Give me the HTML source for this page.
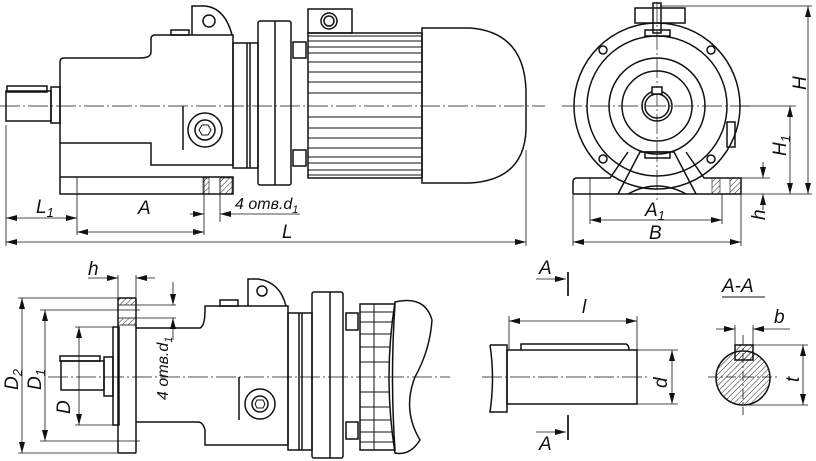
<!DOCTYPE html>
<html><head><meta charset="utf-8"><style>
html,body{margin:0;padding:0;background:#fff;}
svg{display:block;}
text{font-family:"Liberation Sans",sans-serif;font-style:italic;fill:#111;}
</style></head><body>
<svg width="816" height="461" viewBox="0 0 816 461" xmlns="http://www.w3.org/2000/svg">
<defs>
<pattern id="h" width="4" height="4" patternUnits="userSpaceOnUse" patternTransform="rotate(45)"><line x1="0" y1="0" x2="0" y2="4" stroke="#222" stroke-width="1"/></pattern>
<marker id="a" markerWidth="11" markerHeight="6" refX="11" refY="3" orient="auto-start-reverse" markerUnits="userSpaceOnUse"><path d="M0,0 L11,3 L0,6 Z" fill="#111"/></marker>
</defs>
<g fill="none" stroke="#111" stroke-width="1.5">
<!-- TOP LEFT VIEW -->
<line x1="0" y1="106" x2="545" y2="106" stroke-width="0.7" stroke-dasharray="20,3,2,3"/>
<rect x="7" y="86" width="40" height="6"/>
<rect x="6" y="91" width="45" height="30"/>
<rect x="51" y="87" width="9" height="36"/>
<path d="M60,143 L60,62 Q60,58 64,58 L140,58 Q151,58 151,52 L151,39 Q151,35 155,35 L233,35 L233,165 L151,165 L151,143 L60,143 Z"/>
<path d="M60,143 L60,194 L233,194 L233,177 L60,177"/>
<line x1="183" y1="106" x2="183" y2="150"/>
<path d="M192,35 L192,6 L205,6 Q225,8 232,35"/>
<circle cx="209" cy="21" r="6"/>
<rect x="171" y="30" width="18" height="5"/>
<circle cx="205" cy="130" r="17"/><circle cx="205" cy="130" r="10"/>
<polygon points="199,130 202,125 208,125 211,130 208,135 202,135" stroke-width="1"/>
<rect x="203" y="178" width="6" height="16" fill="url(#h)" stroke-width="0.6"/>
<rect x="220" y="178" width="12" height="16" fill="url(#h)" stroke-width="0.6"/>
<rect x="233" y="43" width="25" height="125"/>
<line x1="247" y1="43" x2="247" y2="168"/><line x1="250" y1="43" x2="250" y2="168"/>
<rect x="258" y="21" width="33" height="164" rx="2"/>
<line x1="275" y1="21" x2="275" y2="185"/>
<rect x="293" y="42" width="13" height="16"/><rect x="293" y="150" width="13" height="16"/>
<rect x="308" y="9" width="44" height="24"/>
<circle cx="329" cy="21" r="8"/><circle cx="329" cy="21" r="5"/>
<rect x="308" y="33" width="114" height="145"/>
<g stroke-width="1.1">
<line x1="308" y1="36" x2="422" y2="36"/><line x1="308" y1="41" x2="422" y2="41"/><line x1="308" y1="47" x2="422" y2="47"/><line x1="308" y1="53" x2="422" y2="53"/><line x1="308" y1="62" x2="422" y2="62"/><line x1="308" y1="72" x2="422" y2="72"/><line x1="308" y1="82" x2="422" y2="82"/><line x1="308" y1="93" x2="422" y2="93"/><line x1="308" y1="117" x2="422" y2="117"/><line x1="308" y1="128" x2="422" y2="128"/><line x1="308" y1="138" x2="422" y2="138"/><line x1="308" y1="148" x2="422" y2="148"/><line x1="308" y1="157" x2="422" y2="157"/><line x1="308" y1="163" x2="422" y2="163"/><line x1="308" y1="170" x2="422" y2="170"/><line x1="308" y1="175" x2="422" y2="175"/>
</g>
<path d="M422,28 L470,28 Q524,32 526,90 L526,130 Q524,180 470,183 L422,183 Z"/>
<!-- dims top left -->
<g stroke-width="0.8">
<line x1="6" y1="125" x2="6" y2="246"/><line x1="77" y1="177" x2="77" y2="235"/>
<line x1="204" y1="178" x2="204" y2="235"/><line x1="220" y1="178" x2="220" y2="222"/>
<line x1="526" y1="150" x2="526" y2="246"/>
<line x1="6" y1="218" x2="77" y2="218" marker-start="url(#a)" marker-end="url(#a)"/>
<line x1="77" y1="232" x2="204" y2="232" marker-start="url(#a)" marker-end="url(#a)"/>
<line x1="6" y1="242" x2="526" y2="242" marker-start="url(#a)" marker-end="url(#a)"/>
<line x1="190" y1="214" x2="204" y2="214" marker-end="url(#a)"/>
<line x1="300" y1="214" x2="220" y2="214" marker-end="url(#a)"/>
</g>
<!-- RIGHT VIEW -->
<g stroke-width="0.7" stroke-dasharray="20,3,2,3"><line x1="562" y1="106" x2="750" y2="106"/><line x1="657" y1="2" x2="657" y2="200"/></g>
<circle cx="657" cy="106" r="83"/><circle cx="657" cy="106" r="70"/>
<circle cx="657" cy="106" r="48"/><circle cx="657" cy="106" r="35"/>
<circle cx="657" cy="106" r="15"/><circle cx="657" cy="106" r="12"/>
<rect x="652" y="87" width="10" height="7" fill="#fff"/>
<rect x="635" y="8" width="50" height="15"/><rect x="645" y="30" width="25" height="6"/>
<rect x="653" y="3" width="8" height="30"/>
<rect x="727" y="122" width="8" height="25"/>
<circle cx="603" cy="50" r="4"/><circle cx="711" cy="50" r="4"/><circle cx="603" cy="159" r="4"/><circle cx="711" cy="159" r="4"/>
<rect x="645" y="152" width="25" height="6"/>
<path d="M573,194 L573,182 Q573,178 577,178 L610,178 L628,152 M618,194 L640,152 L674,152 L696,194 M573,194 L741,194 L741,178 L704,178 L686,152"/>
<path d="M628,194 Q657,178 686,194" />
<rect x="712" y="178" width="8" height="16" fill="url(#h)" stroke-width="0.6"/>
<rect x="730" y="178" width="11" height="16" fill="url(#h)" stroke-width="0.6"/>
<g stroke-width="0.8">
<line x1="660" y1="6" x2="812" y2="6"/><line x1="740" y1="106" x2="796" y2="106"/>
<line x1="741" y1="194" x2="812" y2="194"/><line x1="741" y1="178" x2="770" y2="178"/>
<line x1="808" y1="6" x2="808" y2="194" marker-start="url(#a)" marker-end="url(#a)"/>
<line x1="790" y1="106" x2="790" y2="194" marker-start="url(#a)" marker-end="url(#a)"/>
<line x1="763" y1="162" x2="763" y2="178" marker-end="url(#a)"/>
<line x1="763" y1="210" x2="763" y2="194" marker-end="url(#a)"/>
<line x1="573" y1="194" x2="573" y2="246"/><line x1="741" y1="194" x2="741" y2="246"/>
<line x1="590" y1="178" x2="590" y2="224"/><line x1="722" y1="194" x2="722" y2="224"/>
<line x1="590" y1="220" x2="722" y2="220" marker-start="url(#a)" marker-end="url(#a)"/>
<line x1="573" y1="242" x2="741" y2="242" marker-start="url(#a)" marker-end="url(#a)"/>
</g>
<!-- BOTTOM LEFT VIEW -->
<line x1="48" y1="377" x2="450" y2="377" stroke-width="0.7" stroke-dasharray="20,3,2,3"/>
<rect x="60" y="356" width="40" height="5"/><rect x="61" y="361" width="43" height="29"/>
<rect x="104" y="357" width="9" height="39"/>
<rect x="113" y="327" width="6" height="98"/>
<rect x="118" y="298" width="18" height="155" rx="1"/>
<rect x="118" y="298" width="18" height="7" fill="url(#h)" stroke-width="0.8"/>
<rect x="118" y="318" width="18" height="7" fill="url(#h)" stroke-width="0.8"/>
<path d="M136,328 L200,328 Q205,326 205,310 L205,306 L288,306 L288,445 L205,445 L205,430 Q203,422 198,422 L136,422"/>
<line x1="239" y1="377" x2="239" y2="420"/>
<path d="M248,306 L248,279 L258,279 Q280,282 286,306"/><circle cx="262" cy="291" r="5"/>
<rect x="220" y="300" width="18" height="6"/>
<circle cx="260" cy="404" r="15"/><circle cx="260" cy="404" r="8"/>
<polygon points="255,404 257,400 263,400 265,404 263,408 257,408" stroke-width="1"/>
<rect x="288" y="313" width="24" height="137"/>
<line x1="299" y1="313" x2="299" y2="450"/><line x1="302" y1="313" x2="302" y2="450"/>
<rect x="312" y="292" width="31" height="166" rx="2"/><line x1="330" y1="292" x2="330" y2="458"/>
<rect x="346" y="313" width="12" height="17"/><rect x="346" y="422" width="12" height="17"/>
<path d="M360,304 L395,304 Q390,377 395,450 L360,450 Z"/>
<g stroke-width="1"><line x1="360" y1="312" x2="393" y2="312"/><line x1="360" y1="322" x2="392" y2="322"/><line x1="360" y1="334" x2="391" y2="334"/><line x1="360" y1="347" x2="390" y2="347"/><line x1="360" y1="362" x2="390" y2="362"/><line x1="360" y1="392" x2="390" y2="392"/><line x1="360" y1="407" x2="390" y2="407"/><line x1="360" y1="420" x2="391" y2="420"/><line x1="360" y1="432" x2="392" y2="432"/><line x1="360" y1="442" x2="393" y2="442"/><line x1="374" y1="304" x2="374" y2="450"/></g>
<path d="M395,302 Q425,295 432,320 Q430,350 415,377 Q402,410 420,440 Q410,456 395,453 Q383,377 395,302 Z"/>
<g stroke-width="0.8">
<line x1="18" y1="298" x2="118" y2="298"/><line x1="40" y1="310" x2="140" y2="310"/>
<line x1="75" y1="327" x2="113" y2="327"/><line x1="75" y1="425" x2="113" y2="425"/>
<line x1="40" y1="441" x2="140" y2="441"/><line x1="18" y1="453" x2="118" y2="453"/>
<line x1="22" y1="298" x2="22" y2="453" marker-start="url(#a)" marker-end="url(#a)"/>
<line x1="45" y1="310" x2="45" y2="441" marker-start="url(#a)" marker-end="url(#a)"/>
<line x1="79" y1="327" x2="79" y2="425" marker-start="url(#a)" marker-end="url(#a)"/>
<line x1="118" y1="275" x2="118" y2="298"/><line x1="136" y1="275" x2="136" y2="298"/>
<line x1="88" y1="278" x2="118" y2="278" marker-end="url(#a)"/>
<line x1="155" y1="278" x2="136" y2="278" marker-end="url(#a)"/>
<line x1="136" y1="318" x2="176" y2="318"/><line x1="136" y1="305" x2="176" y2="305"/>
<line x1="173" y1="282" x2="173" y2="305" marker-end="url(#a)"/>
<line x1="173" y1="340" x2="173" y2="318" marker-end="url(#a)"/>
</g>
<!-- SHAFT VIEW -->
<path d="M490,345 L507,345 L507,412 L490,412 Q495,378 490,345"/>
<rect x="507" y="350" width="130" height="54"/>
<path d="M521,350 L521,344 L626,344 Q629,345 629,350"/>
<line x1="482" y1="377" x2="650" y2="377" stroke-width="0.7" stroke-dasharray="20,3,2,3"/>
<g stroke-width="0.8">
<line x1="509" y1="316" x2="509" y2="350"/><line x1="637" y1="316" x2="637" y2="350"/>
<line x1="509" y1="321" x2="637" y2="321" marker-start="url(#a)" marker-end="url(#a)"/>
<line x1="637" y1="350" x2="678" y2="350"/><line x1="637" y1="404" x2="678" y2="404"/>
<line x1="672" y1="350" x2="672" y2="404" marker-start="url(#a)" marker-end="url(#a)"/>
<line x1="536" y1="279" x2="566" y2="279" marker-end="url(#a)"/>
<line x1="536" y1="432" x2="566" y2="432" marker-end="url(#a)"/>
</g>
<line x1="568" y1="272" x2="568" y2="296" stroke-width="1.7"/>
<line x1="568" y1="415" x2="568" y2="440" stroke-width="1.7"/>
<!-- section A-A -->
<line x1="722" y1="297" x2="765" y2="297" stroke-width="1.1"/>
<circle cx="743" cy="378" r="27" fill="url(#h)"/>
<rect x="735" y="345" width="18" height="15" fill="url(#h)"/>
<g stroke-width="0.8">
<line x1="708" y1="377" x2="780" y2="377" stroke-dasharray="10,3,2,3"/><line x1="743" y1="335" x2="743" y2="415" stroke-dasharray="10,3,2,3"/>
<line x1="735" y1="325" x2="735" y2="345"/><line x1="753" y1="325" x2="753" y2="345"/>
<line x1="716" y1="329" x2="735" y2="329" marker-end="url(#a)"/>
<line x1="790" y1="329" x2="753" y2="329" marker-end="url(#a)"/>
<line x1="753" y1="345" x2="808" y2="345"/><line x1="743" y1="405" x2="808" y2="405"/>
<line x1="803" y1="345" x2="803" y2="405" marker-start="url(#a)" marker-end="url(#a)"/>
</g>
</g>
<!-- LABELS -->
<g font-size="19">
<text x="36" y="213">L<tspan font-size="13" dy="4">1</tspan></text>
<text x="138" y="214">A</text>
<text x="235" y="209" font-size="16">4 отв.d<tspan font-size="11" dy="4">1</tspan></text>
<text x="282" y="238">L</text>
<text x="645" y="216">A<tspan font-size="13" dy="4">1</tspan></text>
<text x="649" y="239">B</text>
<text transform="translate(806,90) rotate(-90)">H</text>
<text transform="translate(786,156) rotate(-90)">H<tspan font-size="13" dy="4">1</tspan></text>
<text transform="translate(765,220) rotate(-90)">h</text>
<text x="88" y="275">h</text>
<text transform="translate(18,390) rotate(-90)">D<tspan font-size="13" dy="4">2</tspan></text>
<text transform="translate(41,390) rotate(-90)">D<tspan font-size="13" dy="4">1</tspan></text>
<text transform="translate(70,414) rotate(-90)">D</text>
<text transform="translate(168,400) rotate(-90)" font-size="16">4 отв.d<tspan font-size="11" dy="4">1</tspan></text>
<text x="539" y="274">A</text>
<text x="539" y="450">A</text>
<text x="582" y="313">l</text>
<text transform="translate(667,388) rotate(-90)">d</text>
<text x="722" y="292">A-A</text>
<text x="774" y="323">b</text>
<text transform="translate(799,382) rotate(-90)">t</text>
</g>
</svg>
</body></html>
